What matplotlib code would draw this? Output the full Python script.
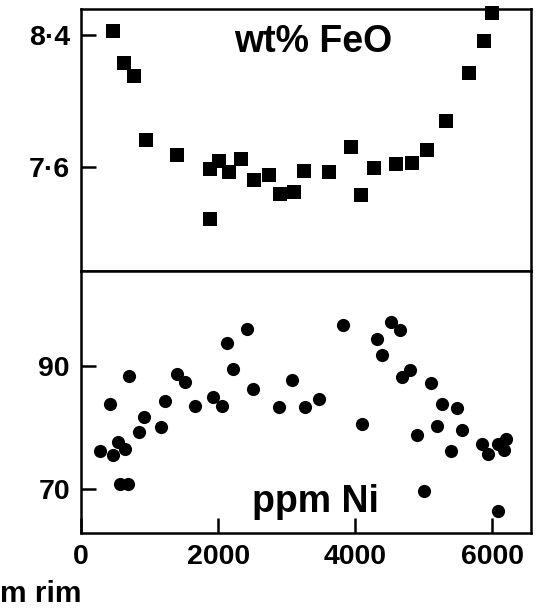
import matplotlib
matplotlib.use("Agg")
import matplotlib.pyplot as plt
from matplotlib.ticker import FuncFormatter

# ---- data (distance from rim, micrometres) ----
feo_dist = [467, 628, 774, 945, 1407, 1889, 2015, 2161, 2327, 2521, 2745, 2901,
            3100, 3253, 3616, 3938, 4084, 4278, 4590, 4824, 5043, 5320, 5660,
            5879, 5992, 1879]
feo_wt = [8.426, 8.228, 8.153, 7.762, 7.671, 7.584, 7.634, 7.570, 7.645, 7.519,
          7.549, 7.434, 7.446, 7.574, 7.570, 7.718, 7.428, 7.590, 7.614, 7.620,
          7.701, 7.879, 8.171, 8.364, 8.535, 7.282]

ni_dist = [273, 419, 467, 540, 638, 575, 686, 701, 842, 920, 1174, 1222, 1402,
           1514, 1660, 1927, 2059, 2123, 2219, 2424, 2502, 2886, 3081, 3270,
           3467, 3825, 4094, 4322, 4395, 4522, 4653, 4686, 4799, 4906, 5004,
           5101, 5189, 5271, 5396, 5490, 5554, 5846, 5942, 6079, 6171, 6200,
           6088]
ni_ppm = [76.2, 83.8, 75.5, 77.6, 76.5, 70.8, 70.8, 88.4, 79.3, 81.7, 80.1, 84.3,
          88.7, 87.4, 83.5, 85.0, 83.5, 93.7, 89.5, 96.0, 86.3, 83.3, 87.8, 83.4,
          84.6, 96.7, 80.5, 94.4, 91.8, 97.2, 95.9, 88.2, 89.4, 78.8, 69.7, 87.2,
          80.2, 83.8, 76.2, 83.1, 79.6, 77.4, 75.7, 77.4, 76.3, 78.2, 66.5]

x_ticks = [0, 2000, 4000, 6000]
feo_ticks = [7.6, 8.4]
ni_ticks = [70, 90]
feo_label = "wt% FeO"
ni_label = "ppm Ni"
x_label_visible = "m rim"

plt.rcParams['font.family'] = ['Liberation Sans', 'DejaVu Sans']
plt.rcParams['font.weight'] = 'bold'

W, H = 543, 608
fig = plt.figure(figsize=(W / 100, H / 100), dpi=100)

left, right = 81 / W, 530.7 / W
top_px, mid_px, bot_px = 9.3, 270.7, 533.3
ax1 = fig.add_axes([left, 1 - mid_px / H, right - left, (mid_px - top_px) / H])
ax2 = fig.add_axes([left, 1 - bot_px / H, right - left, (bot_px - mid_px) / H], sharex=ax1)

for ax in (ax1, ax2):
    for s in ax.spines.values():
        s.set_linewidth(1.8)
    ax.tick_params(direction='in', length=10.5, width=1.8, labelsize=20.5, pad=8)
    for lab in ax.get_yticklabels() + ax.get_xticklabels():
        lab.set_fontweight('bold')

ax1.scatter(feo_dist, feo_wt, marker='s', s=92, color='black', linewidths=0, clip_on=False, zorder=3)
ax2.scatter(ni_dist, ni_ppm, marker='o', s=90, color='black', linewidths=0, clip_on=False, zorder=3)

ax1.set_xlim(0, 6560)
ax1.set_ylim(6.968, 8.556)
ax2.set_ylim(62.85, 105.45)

ax1.set_yticks(feo_ticks)
ax1.yaxis.set_major_formatter(FuncFormatter(lambda v, p: f"{v:.1f}".replace('.', '\u00b7')))
ax2.set_yticks(ni_ticks)
ax2.set_xticks(x_ticks)
ax1.tick_params(axis='x', bottom=False, labelbottom=False)

for ax in (ax1, ax2):
    for lab in ax.get_yticklabels() + ax.get_xticklabels():
        lab.set_fontweight('bold')
        lab.set_fontsize(20.5)

ax1.text(313 / W, 1 - 51.7 / H, feo_label, transform=fig.transFigure, ha='center',
         va='baseline', fontsize=27, fontweight='bold')
ax2.text(315 / W, 1 - 512 / H, ni_label, transform=fig.transFigure, ha='center',
         va='baseline', fontsize=27, fontweight='bold')
fig.text(0.0, 1 - 601.7 / H, x_label_visible, ha='left', va='baseline',
         fontsize=21.5, fontweight='bold')

fig.savefig("out.png", dpi=100)
